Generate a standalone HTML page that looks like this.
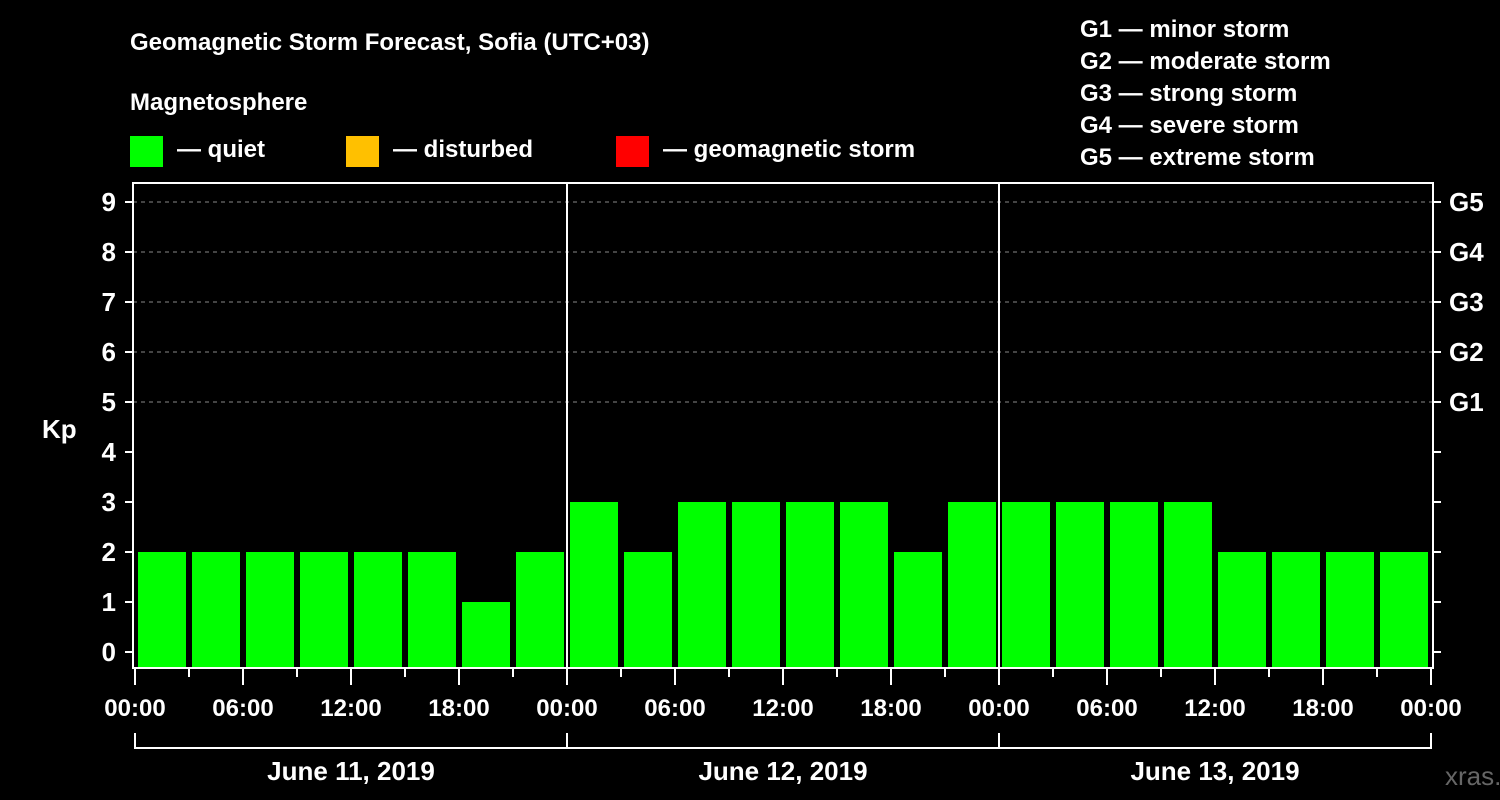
<!DOCTYPE html>
<html><head><meta charset="utf-8"><style>
html,body{margin:0;padding:0;background:#000;}
svg{display:block;font-family:"Liberation Sans",Arial,sans-serif;font-weight:bold;}
</style></head><body>
<svg id="chart" width="1500" height="800" viewBox="0 0 1500 800">
<rect width="1500" height="800" fill="#000"/>
<text x="130" y="50" fill="#fff" font-size="24">Geomagnetic Storm Forecast, Sofia (UTC+03)</text>
<text x="130" y="110" fill="#fff" font-size="24">Magnetosphere</text>
<g><rect x="130" y="136" width="33" height="31" fill="#00ff00"/><text x="177" y="157" fill="#fff" font-size="24">— quiet</text></g>
<g><rect x="346" y="136" width="33" height="31" fill="#ffc000"/><text x="393" y="157" fill="#fff" font-size="24">— disturbed</text></g>
<g><rect x="616" y="136" width="33" height="31" fill="#ff0000"/><text x="663" y="157" fill="#fff" font-size="24">— geomagnetic storm</text></g>
<g fill="#fff" font-size="24">
<text x="1080" y="37">G1 — minor storm</text>
<text x="1080" y="69">G2 — moderate storm</text>
<text x="1080" y="101">G3 — strong storm</text>
<text x="1080" y="133">G4 — severe storm</text>
<text x="1080" y="165">G5 — extreme storm</text>
</g>
<text x="42" y="438" fill="#fff" font-size="26">Kp</text>
<text x="1445" y="785" fill="#666" font-size="26" font-weight="normal">xras.ru</text>
<g id="plot"></g>
</svg>
<script>
const days = ["June 11, 2019", "June 12, 2019", "June 13, 2019"];
const kpValues = [2,2,2,2,2,2,1,2, 3,2,3,3,3,3,2,3, 3,3,3,3,2,2,2,2];
const yTicks = [0,1,2,3,4,5,6,7,8,9];
const gLabels = ["G1","G2","G3","G4","G5"];
const xTickLabels = ["00:00","06:00","12:00","18:00"];

const NS = "http://www.w3.org/2000/svg";
const plot = document.getElementById("plot");
const X0 = 135, SLOT = 54, DAYW = 432;
const L = 133, R = 1433, T = 183, B = 668;
const y = v => 652 - 50 * v;
const x = slot => X0 + SLOT * slot;
function mk(tag, attrs, parent) {
  const e = document.createElementNS(NS, tag);
  for (const k in attrs) e.setAttribute(k, attrs[k]);
  (parent || plot).appendChild(e);
  return e;
}
// grid
for (let v = 5; v <= 9; v++) {
  const g = mk("line", {x1: L, x2: R, y1: y(v), y2: y(v), stroke: "#888", "stroke-dasharray": "4,4", "stroke-width": 1});
  
  
}
// bars
kpValues.forEach((v, i) => {
  const col = v >= 5 ? "#ff0000" : (v >= 4 ? "#ffc000" : "#00ff00");
  const b = mk("rect", {x: x(i) + 3, y: y(v), width: 48, height: B - 1 - y(v), fill: col});
  
  
});
// frame
const fr = mk("rect", {x: L, y: T, width: R - L, height: B - T, fill: "none", stroke: "#fff", "stroke-width": 2});


// day separators
for (let d = 1; d < days.length; d++) {
  const s = mk("line", {x1: X0 + DAYW * d, x2: X0 + DAYW * d, y1: T, y2: B, stroke: "#fff", "stroke-width": 2});
  
  
}
// y ticks
yTicks.forEach(v => {
  const t = mk("line", {x1: L - 8, x2: L, y1: y(v), y2: y(v), stroke: "#fff", "stroke-width": 2});
  
  
  const t2 = mk("line", {x1: R, x2: R + 8, y1: y(v), y2: y(v), stroke: "#fff", "stroke-width": 2});
  
  
  const lb = mk("text", {x: 116, y: y(v) + 9, fill: "#fff", "font-size": 26, "text-anchor": "end"});
  lb.textContent = v;
  
  
});
gLabels.forEach((g, i) => {
  const lb = mk("text", {x: 1449, y: y(5 + i) + 9, fill: "#fff", "font-size": 26});
  lb.textContent = g;
  
  
});
// x ticks
const nSlots = days.length * 8;
for (let i = 0; i <= nSlots; i++) {
  const long = i % 2 === 0;
  const t = mk("line", {x1: x(i), x2: x(i), y1: B, y2: long ? 685 : 677, stroke: "#fff", "stroke-width": 2});
  
  
  if (long) {
    const lb = mk("text", {x: x(i), y: 716, fill: "#fff", "font-size": 24, "text-anchor": "middle"});
    lb.textContent = xTickLabels[(i / 2) % 4];
    
    
  }
}
// day brackets
const br = mk("path", {d: "", stroke: "#fff", "stroke-width": 2, fill: "none"});
let d = `M${X0} 733 V748 H${X0 + DAYW * days.length} V733`;
for (let k = 1; k < days.length; k++) d += ` M${X0 + DAYW * k} 733 V748`;
br.setAttribute("d", d);


days.forEach((dl, k) => {
  const lb = mk("text", {x: X0 + DAYW * k + DAYW / 2, y: 780, fill: "#fff", "font-size": 26, "text-anchor": "middle"});
  lb.textContent = dl;
  
  
});
</script>
</body></html>
